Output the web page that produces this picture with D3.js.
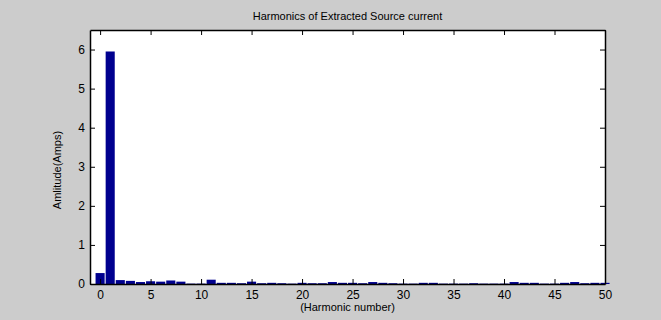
<!DOCTYPE html>
<html>
<head>
<meta charset="utf-8">
<script src="https://cdn.jsdelivr.net/npm/d3@7"></script>
<style>
  body { margin: 0; background: #cccccc; }
  svg { display: block; }
</style>
</head>
<body>
<svg id="chart" width="661" height="320"></svg>
<script>
// Harmonic spectrum of the extracted source current (MATLAB style bar plot)
const harmonics = d3.range(0, 51);
const amplitudes = [
  0.28, 5.95, 0.10, 0.08, 0.05, 0.07, 0.06, 0.09, 0.06, 0.01,
  0.01, 0.11, 0.03, 0.03, 0.02, 0.06, 0.02, 0.03, 0.02, 0.01,
  0.03, 0.02, 0.02, 0.05, 0.03, 0.03, 0.02, 0.05, 0.03, 0.02,
  0.01, 0.01, 0.03, 0.03, 0.01, 0.01, 0.01, 0.02, 0.01, 0.01,
  0.01, 0.05, 0.03, 0.03, 0.01, 0.01, 0.03, 0.05, 0.02, 0.03,
  0.03
];
const xTicks = [0, 5, 10, 15, 20, 25, 30, 35, 40, 45, 50];
const yTicks = [0, 1, 2, 3, 4, 5, 6];

const svg = d3.select('#chart');
const margin = { left: 90, right: 56, top: 30, bottom: 36 };
const width = 661, height = 320;

const x = d3.scaleLinear().domain([-1, 50]).range([margin.left, width - margin.right]);
const y = d3.scaleLinear().domain([0, 6.5]).range([height - margin.bottom, margin.top]);

const font = 'Liberation Sans, Arial, sans-serif';

// plot area background
svg.append('rect')
  .attr('x', x(-1)).attr('y', y(6.5))
  .attr('width', x(50) - x(-1)).attr('height', y(0) - y(6.5))
  .style('fill', '#ffffff');

// bars
const barW = (x(1) - x(0)) * 0.9;
svg.selectAll('.bar')
  .data(harmonics)
  .enter()
  .append('rect')
  .attr('class', 'bar')
  .attr('x', d => x(d) - barW / 2)
  .attr('y', d => y(amplitudes[d]))
  .attr('width', barW)
  .attr('height', d => y(0) - y(amplitudes[d]))
  .style('fill', '#00008f');

// axes (ticks inward, mirrored on top/right like MATLAB box)
const tickLen = 5;
const bottomAxis = d3.axisBottom(x).tickValues(xTicks).tickSizeInner(-tickLen).tickSizeOuter(0).tickPadding(6).tickFormat(d3.format('d'));
const topAxis = d3.axisTop(x).tickValues(xTicks).tickSizeInner(-tickLen).tickSizeOuter(0).tickFormat('');
const leftAxis = d3.axisLeft(y).tickValues(yTicks).tickSizeInner(-tickLen).tickSizeOuter(0).tickPadding(5).tickFormat(d3.format('d'));
const rightAxis = d3.axisRight(y).tickValues(yTicks).tickSizeInner(-tickLen).tickSizeOuter(0).tickFormat('');

const gB = svg.append('g').attr('transform', `translate(0,${y(0)})`).call(bottomAxis);
const gT = svg.append('g').attr('transform', `translate(0,${y(6.5)})`).call(topAxis);
const gL = svg.append('g').attr('transform', `translate(${x(-1)},0)`).call(leftAxis);
const gR = svg.append('g').attr('transform', `translate(${x(50)},0)`).call(rightAxis);

[gB, gT, gL, gR].forEach(g => {
  g.select('.domain').style('stroke', '#000').style('stroke-width', 1.5);
  g.selectAll('.tick line').style('stroke', '#000');
  g.selectAll('text')
    .style('font-family', font)
    .style('font-size', '12px')
    .style('fill', '#000');
});

// title
svg.append('text')
  .attr('x', (x(-1) + x(50)) / 2)
  .attr('y', 20)
  .style('font-family', font)
  .style('font-size', '11px')
  .style('text-anchor', 'middle')
  .text('Harmonics of Extracted Source current');

// x label
svg.append('text')
  .attr('x', (x(-1) + x(50)) / 2)
  .attr('y', 311)
  .style('font-family', font)
  .style('font-size', '11px')
  .style('text-anchor', 'middle')
  .text('(Harmonic number)');

// y label
svg.append('text')
  .attr('transform', `translate(61,170) rotate(-90)`)
  .style('font-family', 'Liberation Sans Narrow, ' + font)
  .style('font-size', '11px')
  .style('text-anchor', 'middle')
  .text('Amlitude(Amps)');
</script>
</body>
</html>
